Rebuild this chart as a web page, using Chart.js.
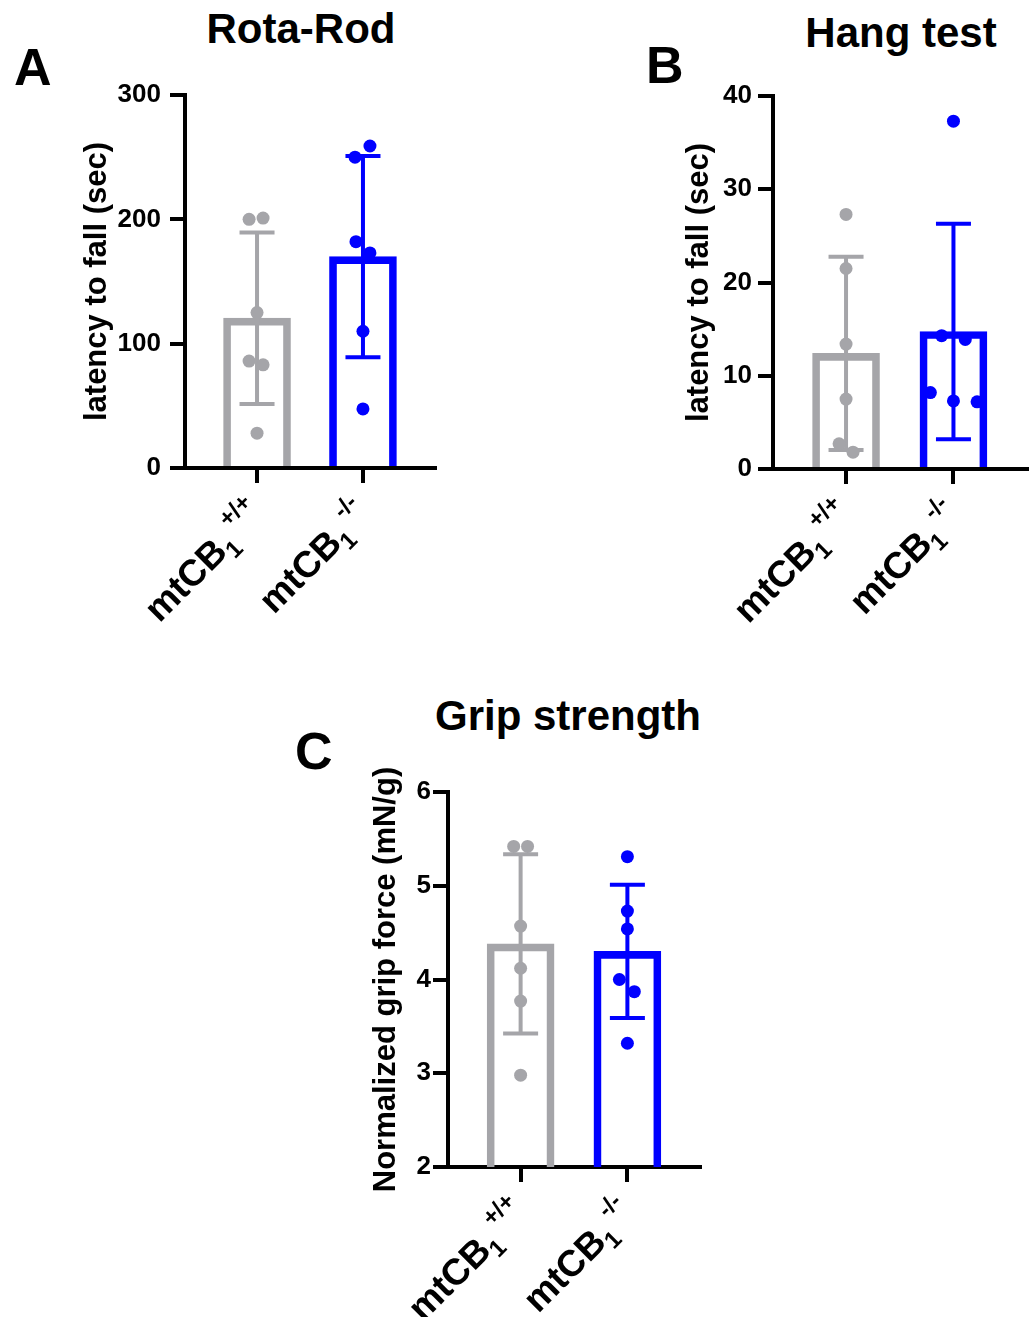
<!DOCTYPE html>
<html><head><meta charset="utf-8">
<script src="https://cdn.jsdelivr.net/npm/chart.js@4.4.0/dist/chart.umd.min.js"></script>
<style>
html,body{margin:0;padding:0;background:#fff;}
body{width:1033px;height:1317px;position:relative;overflow:hidden;font-family:'Liberation Sans',Arial,sans-serif;}
.t{position:absolute;font-weight:bold;line-height:1;white-space:nowrap;color:#000;}
.c{text-align:center;width:400px;}
.wrap{position:absolute;}
canvas{display:block;}
</style></head><body>
<div class="t" style="left:14px;top:41px;font-size:52px;">A</div>
<div class="t" style="left:646px;top:39px;font-size:52px;">B</div>
<div class="t" style="left:295px;top:725px;font-size:52px;">C</div>
<div class="t c" style="left:101px;top:7.5px;font-size:42px;">Rota-Rod</div>
<div class="t c" style="left:701px;top:11.5px;font-size:42px;">Hang test</div>
<div class="t c" style="left:368px;top:694.5px;font-size:42px;">Grip strength</div>

<div class="wrap" style="left:0;top:0;width:470px;height:640px"><canvas id="cA" width="470" height="640"></canvas></div>
<div class="wrap" style="left:600px;top:0;width:433px;height:640px"><canvas id="cB" width="433" height="640"></canvas></div>
<div class="wrap" style="left:280px;top:690px;width:450px;height:627px"><canvas id="cC" width="450" height="627"></canvas></div>

<script>
// ---------- data ----------
const categories = ['mtCB', 'mtCB'];
const subLabels = ['1', '1'];
const supLabels = ['+/+', '-/-'];

// Rota-Rod (A)
const rotaMeans = [120.5, 170];
const rotaSD = [69, 81];
const rotaWT = [200, 201, 125, 86, 83, 28];
const rotaWTJitter = [-0.075, 0.057, 0, -0.075, 0.057, 0];
const rotaKO = [250, 259, 182, 173, 110, 47.5];
const rotaKOJitter = [-0.075, 0.066, -0.066, 0.066, 0, 0];
const rotaTicks = [0, 100, 200, 300];

// Hang test (B)
const hangMeans = [12.4, 14.75];
const hangSD = [10.35, 11.55];
const hangWT = [27.3, 21.5, 13.4, 7.5, 2.7, 1.8];
const hangWTJitter = [0, 0, 0, 0, -0.065, 0.065];
const hangKO = [14.3, 13.9, 37.3, 8.2, 7.3, 7.2];
const hangKOJitter = [-0.11, 0.11, 0, -0.215, 0, 0.22];
const hangTicks = [0, 10, 20, 30, 40];

// Grip strength (C)
const gripMeans = [4.38, 4.3];
const gripSD = [0.955, 0.71];
const gripWT = [5.42, 5.42, 4.57, 4.12, 3.77, 2.98];
const gripWTJitter = [-0.065, 0.065, 0, 0, 0, 0];
const gripKO = [5.31, 4.73, 4.54, 4.0, 3.87, 3.32];
const gripKOJitter = [0, 0, 0, -0.075, 0.065, 0];
const gripTicks = [2, 3, 4, 5, 6];

// ---------- styles ----------
const FONT = "'Liberation Sans', Arial, sans-serif";
const GRAY = '#A5A5A9';
const BLUE = '#0000FF';
const groupColors = [GRAY, BLUE];
const LBL = { dx: 9, dy: 49, main: 37, sub: 24, sup: 24, subDrop: 8, supRise: 19, gap: 4 };

const errorBarPlugin = {
  id: 'errBars',
  afterDatasetDraw(chart, args, opts) {
    if (args.index !== 1) return;
    const ctx = chart.ctx, xs = chart.scales.x, ys = chart.scales.y;
    ctx.save();
    ctx.lineWidth = 4;
    ctx.lineCap = 'butt';
    opts.means.forEach((m, i) => {
      const x = xs.getPixelForValue(i + 1);
      const yt = ys.getPixelForValue(m + opts.sds[i]);
      const yb = ys.getPixelForValue(m - opts.sds[i]);
      ctx.strokeStyle = groupColors[i];
      ctx.beginPath();
      ctx.moveTo(x, yt); ctx.lineTo(x, yb);
      ctx.moveTo(x - 17.5, yt); ctx.lineTo(x + 17.5, yt);
      ctx.moveTo(x - 17.5, yb); ctx.lineTo(x + 17.5, yb);
      ctx.stroke();
    });
    ctx.restore();
  }
};

const xLabelPlugin = {
  id: 'xLabels',
  afterDraw(chart) {
    const ctx = chart.ctx, xs = chart.scales.x, yb = chart.chartArea.bottom;
    ctx.save();
    ctx.fillStyle = '#000';
    ctx.textBaseline = 'alphabetic';
    ctx.textAlign = 'left';
    categories.forEach((c, i) => {
      const px = xs.getPixelForValue(i + 1);
      ctx.save();
      ctx.translate(px + LBL.dx, yb + LBL.dy);
      ctx.rotate(-Math.PI / 4);
      const fMain = `bold ${LBL.main}px ${FONT}`;
      const fSub = `bold ${LBL.sub}px ${FONT}`;
      const fSup = `bold ${LBL.sup}px ${FONT}`;
      ctx.font = fSup; const wSup = ctx.measureText(supLabels[i]).width;
      ctx.font = fSub; const wSub = ctx.measureText(subLabels[i]).width;
      ctx.font = fMain; const wMain = ctx.measureText(c).width;
      let x = -(wSup + LBL.gap + wSub + wMain);
      ctx.fillText(c, x, 0);
      x += wMain;
      ctx.font = fSub; ctx.fillText(subLabels[i], x, LBL.subDrop);
      x += wSub + LBL.gap;
      ctx.font = fSup; ctx.fillText(supLabels[i], x, -LBL.supRise);
      ctx.restore();
    });
    ctx.restore();
  }
};

function makeChart(id, cfg) {
  const pts = (vals, jit, g) => vals.map((v, k) => ({ x: g + jit[k], y: v }));
  new Chart(document.getElementById(id), {
    type: 'bar',
    data: {
      datasets: [
        {
          type: 'scatter',
          data: pts(cfg.wt, cfg.wtJ, 1).concat(pts(cfg.ko, cfg.koJ, 2)),
          pointRadius: 6.5,
          pointBorderWidth: 0,
          pointBackgroundColor: cfg.wt.map(() => GRAY).concat(cfg.ko.map(() => BLUE)),
          order: 1
        },
        {
          type: 'bar',
          data: cfg.means.map((m, i) => ({ x: i + 1, y: m })),
          backgroundColor: 'rgba(255,255,255,0)',
          borderColor: groupColors,
          borderWidth: 7,
          borderSkipped: 'start',
          barThickness: 67,
          order: 2
        }
      ]
    },
    options: {
      responsive: false,
      animation: false,
      events: [],
      layout: { padding: { left: cfg.padLeft, top: cfg.padTop, right: cfg.padRight, bottom: 0 } },
      plugins: {
        legend: { display: false },
        tooltip: { enabled: false },
        errBars: { means: cfg.means, sds: cfg.sds }
      },
      scales: {
        x: {
          type: 'linear',
          offset: false,
          min: 0.32, max: 2.68,
          afterBuildTicks: s => { s.ticks = [{ value: 1 }, { value: 2 }]; },
          afterFit: s => { s.height = cfg.xHeight; },
          ticks: { display: false },
          grid: { display: true, offset: false, drawOnChartArea: false, drawTicks: true, tickLength: 15, tickWidth: 4, tickColor: '#000', color: '#000', lineWidth: 4 },
          border: { display: true, color: '#000', width: 4 }
        },
        y: {
          min: cfg.ticks[0], max: cfg.ticks[cfg.ticks.length - 1],
          afterBuildTicks: s => { s.ticks = cfg.ticks.map(v => ({ value: v })); },
          afterFit: s => { s.width = cfg.yWidth; },
          ticks: { color: '#000', padding: cfg.tickPad, font: { family: FONT, size: 26, weight: 'bold' } },
          grid: { display: true, drawOnChartArea: false, drawTicks: true, tickLength: 15, tickWidth: 4, tickColor: '#000', color: '#000', lineWidth: 4 },
          border: { display: true, color: '#000', width: 4 },
          title: { display: true, text: cfg.yTitle, color: '#000', padding: 0, font: { family: FONT, size: 31, weight: 'bold', lineHeight: 1.2 } }
        }
      }
    },
    plugins: [errorBarPlugin, xLabelPlugin]
  });
}

makeChart('cA', {
  means: rotaMeans, sds: rotaSD, wt: rotaWT, wtJ: rotaWTJitter, ko: rotaKO, koJ: rotaKOJitter,
  ticks: rotaTicks, yTitle: 'latency to fall (sec)',
  padLeft: 79, padTop: 95, padRight: 35, yWidth: 106, xHeight: 172, tickPad: 9
});
makeChart('cB', {
  means: hangMeans, sds: hangSD, wt: hangWT, wtJ: hangWTJitter, ko: hangKO, koJ: hangKOJitter,
  ticks: hangTicks, yTitle: 'latency to fall (sec)',
  padLeft: 81, padTop: 96, padRight: 6, yWidth: 92, xHeight: 171, tickPad: 6
});
makeChart('cC', {
  means: gripMeans, sds: gripSD, wt: gripWT, wtJ: gripWTJitter, ko: gripKO, koJ: gripKOJitter,
  ticks: gripTicks, yTitle: 'Normalized grip force (mN/g)',
  padLeft: 88, padTop: 102, padRight: 30, yWidth: 80, xHeight: 150, tickPad: 2
});
</script>
</body></html>
